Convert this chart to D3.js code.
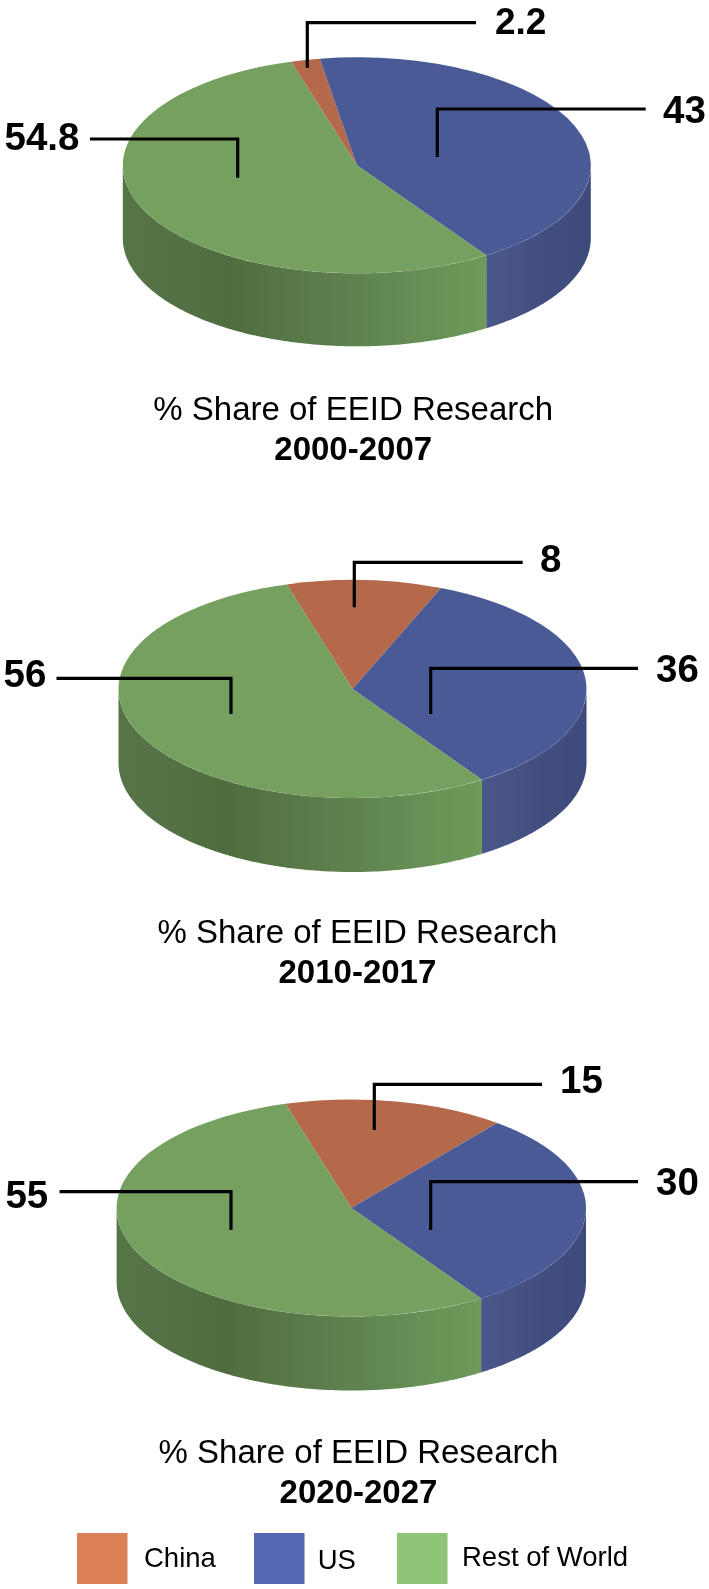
<!DOCTYPE html>
<html>
<head>
<meta charset="utf-8">
<style>
html, body { margin: 0; padding: 0; background: #fff; }
svg { display: block; }
text { font-family: "Liberation Sans", Arial, sans-serif; fill: #000; }
</style>
<script src="https://cdn.jsdelivr.net/npm/d3@7"></script>
</head>
<body>
<script>
var width = 709,
    height = 1589;

var categories = ["China", "US", "Rest of World"];
var periods = ["2000-2007", "2010-2017", "2020-2027"];

// printed next to the leaders
var labels2000 = ["2.2", "43", "54.8"],
    labels2010 = ["8", "36", "56"],
    labels2020 = ["15", "30", "55"];

// slice sizes. the middle pie is drawn wider
// for China than its "8" label says, so labels and slices are kept apart
var shares2000 = [2.0, 43.2, 54.8],
    shares2010 = [10.7, 34.5, 54.8],
    shares2020 = [15.2, 30, 54.8];

var title = "% Share of EEID Research";

var topColor = ["#b4694b", "#4a5a96", "#76a060"],
    legendColor = ["#dc8059", "#5469b2", "#8ec474"];

// layout of each pie, in page pixels
var layouts = [
    { cx: 356.8, cy: 165.3, rx: 234, ry: 108, depth: 73, titleX: 353.2, titleY: 420, yearY: 460,
      leaders: [
        { x: 307.3, y: 22.7, y2: 67.7, end: 476, tx: 495, ty: 33.5, size: 37 },
        { x: 437.3, y: 109, y2: 157, end: 645.7, tx: 663, ty: 123 },
        { x: 237.7, y: 139, y2: 177.7, end: 90, tx: 4.5, ty: 149.5 }
      ] },
    { cx: 352.5, cy: 689, rx: 234, ry: 109, depth: 74, titleX: 357.4, titleY: 943, yearY: 983,
      leaders: [
        { x: 354.3, y: 562.3, y2: 607.3, end: 522.7, tx: 540, ty: 571.5 },
        { x: 430.7, y: 668.3, y2: 714, end: 638, tx: 656, ty: 682 },
        { x: 231, y: 678.3, y2: 714, end: 56.5, tx: 3.5, ty: 687 }
      ] },
    { cx: 351.3, cy: 1208, rx: 234.7, ry: 108.5, depth: 74, titleX: 358.5, titleY: 1462.5, yearY: 1502.5,
      leaders: [
        { x: 374.3, y: 1084.3, y2: 1130, end: 542, tx: 560, ty: 1093 },
        { x: 430.7, y: 1181.7, y2: 1230, end: 638, tx: 656, ty: 1195 },
        { x: 231, y: 1191.7, y2: 1230, end: 59.6, tx: 5.4, ty: 1208 }
      ] }
];

var allLabels = [labels2000, labels2010, labels2020],
    allShares = [shares2000, shares2010, shares2020];

var svg = d3.select("body").append("svg")
    .attr("width", width)
    .attr("height", height)
    .style("background", "#fff");

var defs = svg.append("defs");

defs.append("filter")
    .attr("id", "soft")
    .attr("x", "-2%").attr("y", "-2%")
    .attr("width", "104%").attr("height", "104%")
    .append("feGaussianBlur")
    .attr("stdDeviation", 0.55);

// side wall shading, dark on the left and lighter towards the blue slice
var sideStops = [
    [],
    [[0, "#4a5789"], [0.5, "#434f80"], [1, "#3e4b7c"]],
    [[0, "#557548"], [0.3, "#506d40"], [0.65, "#5f8350"], [1, "#6f9a5a"]]
];

sideStops.forEach(function(stops, i) {
    if (!stops.length) return;
    var g = defs.append("linearGradient").attr("id", "side" + i);
    stops.forEach(function(s) {
        g.append("stop").attr("offset", s[0]).attr("stop-color", s[1]);
    });
});

var root = svg.append("g").attr("filter", "url(#soft)");

// all pies start at the same spot just left of twelve o'clock
var startAngle = -16.3 * Math.PI / 180;

var pie = d3.pie()
    .sort(null)
    .startAngle(startAngle)
    .endAngle(startAngle + 2 * Math.PI);

layouts.forEach(function(p, n) {
    var g = root.append("g");
    var slices = pie(allShares[n]);

    var x = d3.scaleLinear().domain([-1, 1]).range([p.cx - p.rx, p.cx + p.rx]),
        y = d3.scaleLinear().domain([-1, 1]).range([p.cy - p.ry, p.cy + p.ry]);

    // visible front of the wall is between 90 and 270 degrees
    var front = function(d) {
        var a0 = Math.max(d.startAngle, Math.PI / 2),
            a1 = Math.min(d.endAngle, 3 * Math.PI / 2);
        if (a1 <= a0) return null;
        var angles = d3.range(a0, a1, 0.01).concat([a1]);
        var rim = angles.map(function(a) { return [x(Math.sin(a)), y(-Math.cos(a))]; });
        var low = rim.slice().reverse().map(function(q) { return [q[0], q[1] + p.depth]; });
        return d3.line()(rim.concat(low)) + "Z";
    };

    g.selectAll("path.side")
        .data(slices)
        .enter().append("path")
        .attr("class", "side")
        .attr("d", front)
        .attr("fill", function(d, i) { return "url(#side" + i + ")"; });

    var arc = d3.arc().innerRadius(0).outerRadius(p.rx);

    g.selectAll("path.top")
        .data(slices)
        .enter().append("path")
        .attr("class", "top")
        .attr("transform", "translate(" + p.cx + "," + p.cy + ") scale(1," + (p.ry / p.rx) + ")")
        .attr("d", arc)
        .attr("fill", function(d, i) { return topColor[i]; });

    g.selectAll("path.leader")
        .data(p.leaders)
        .enter().append("path")
        .attr("class", "leader")
        .attr("fill", "none")
        .attr("stroke", "#000")
        .attr("stroke-width", 3.2)
        .attr("d", function(d) {
            return "M" + d.end + "," + d.y + "H" + d.x + "V" + d.y2;
        });

    g.selectAll("text.value")
        .data(p.leaders)
        .enter().append("text")
        .attr("class", "value")
        .attr("x", function(d) { return d.tx; })
        .attr("y", function(d) { return d.ty; })
        .attr("font-size", function(d) { return d.size || 38.5; })
        .attr("font-weight", "bold")
        .text(function(d, i) { return allLabels[n][i]; });

    g.append("text")
        .attr("x", p.titleX)
        .attr("y", p.titleY)
        .attr("text-anchor", "middle")
        .attr("font-size", 33)
        .text(title);

    g.append("text")
        .attr("x", p.titleX)
        .attr("y", p.yearY)
        .attr("text-anchor", "middle")
        .attr("font-size", 33)
        .attr("font-weight", "bold")
        .text(periods[n]);
});

// legend
var legendBox = [77, 254, 397],
    legendText = [144, 317.7, 462],
    legendBase = [1566.7, 1569, 1566];

var legend = root.selectAll("g.legend")
    .data(categories)
    .enter().append("g")
    .attr("class", "legend");

legend.append("rect")
    .attr("x", function(d, i) { return legendBox[i]; })
    .attr("y", 1533)
    .attr("width", 50.5)
    .attr("height", 51)
    .attr("fill", function(d, i) { return legendColor[i]; });

legend.append("text")
    .attr("x", function(d, i) { return legendText[i]; })
    .attr("y", function(d, i) { return legendBase[i]; })
    .attr("font-size", 27.5)
    .text(function(d) { return d; });
</script>
</body>
</html>
